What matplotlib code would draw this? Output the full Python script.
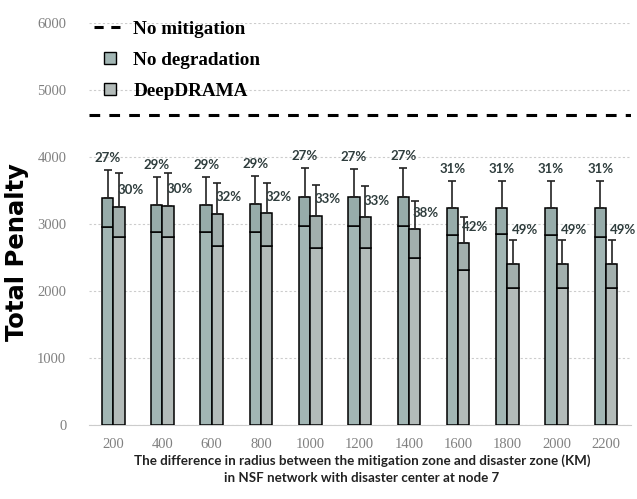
import numpy as np
import matplotlib
matplotlib.use('Agg')
import matplotlib.pyplot as plt
from matplotlib.lines import Line2D

# radius difference (KM)
radius = ['200', '400', '600', '800', '1000', '1200', '1400', '1600', '1800', '2000', '2200']

# No degradation: bar top, lower segment, whisker top
nd_top = [3390, 3285, 3285, 3300, 3400, 3400, 3400, 3240, 3240, 3240, 3240]
nd_low = [2955, 2880, 2880, 2880, 2970, 2970, 2970, 2830, 2850, 2830, 2800]
nd_err = [3805, 3700, 3700, 3720, 3840, 3820, 3840, 3640, 3640, 3640, 3640]
nd_pct = ['27%', '29%', '29%', '29%', '27%', '27%', '27%', '31%', '31%', '31%', '31%']

# DeepDRAMA
dd_top = [3255, 3270, 3150, 3160, 3120, 3100, 2920, 2710, 2400, 2400, 2400]
dd_low = [2805, 2800, 2680, 2680, 2650, 2650, 2500, 2310, 2050, 2050, 2050]
dd_err = [3760, 3760, 3610, 3610, 3580, 3570, 3340, 3100, 2760, 2760, 2760]
dd_pct = ['30%', '30%', '32%', '32%', '33%', '33%', '38%', '42%', '49%', '49%', '49%']

no_mitigation = 4620

nd_color = '#a2b6b4'
dd_color = '#b3bbb9'
pct_color = '#2f3d3d'

fig = plt.figure(figsize=(6.37, 4.99), dpi=100)
ax = fig.add_axes([0.139, 0.148, 0.851, 0.806])

x = np.arange(len(radius))
w = 0.23
nd_top = np.array(nd_top); nd_low = np.array(nd_low); nd_err = np.array(nd_err)
dd_top = np.array(dd_top); dd_low = np.array(dd_low); dd_err = np.array(dd_err)

# stacked bars: lower part + upper box
ax.bar(x - w / 2, nd_low, w, color=nd_color, edgecolor='black', linewidth=1.1, zorder=3)
ax.bar(x - w / 2, nd_top - nd_low, w, bottom=nd_low, color='#97acaa', edgecolor='black', linewidth=1.1, zorder=3)
ax.bar(x + w / 2, dd_low, w, color=dd_color, edgecolor='black', linewidth=1.1, zorder=3)
ax.bar(x + w / 2, dd_top - dd_low, w, bottom=dd_low, color='#a2afad', edgecolor='black', linewidth=1.1, zorder=3)

# whiskers
ax.errorbar(x - w / 2, nd_top, yerr=[np.zeros_like(nd_top), nd_err - nd_top], fmt='none',
            ecolor='#222222', elinewidth=1.2, capsize=3, capthick=1.2, zorder=4)
ax.errorbar(x + w / 2, dd_top, yerr=[np.zeros_like(dd_top), dd_err - dd_top], fmt='none',
            ecolor='#222222', elinewidth=1.2, capsize=3, capthick=1.2, zorder=4)

# no mitigation line
ax.axhline(no_mitigation, color='black', linestyle=(0, (3.5, 3)), linewidth=2.2, zorder=2)

# percent labels
for i in range(len(radius)):
    ax.text(x[i] - w / 2, nd_err[i] + 90, nd_pct[i], ha='center', va='bottom',
            fontsize=9.5, fontweight='bold', family='Lato', color=pct_color, zorder=5)
    ypos = max(dd_top[i] + 250, nd_top[i] - 330)
    ax.text(x[i] + w / 2 - 0.03, ypos, dd_pct[i], ha='left', va='center',
            fontsize=9.5, fontweight='bold', family='Lato', color=pct_color, zorder=5)

ax.set_xlim(-0.5, 10.5)
ax.set_ylim(0, 6000)
ax.set_yticks(np.arange(0, 6001, 1000))
ax.set_xticks(x)
ax.set_xticklabels(radius)
ax.tick_params(axis='both', length=0, labelsize=10.5, labelcolor='#808080')
for lab in ax.get_xticklabels() + ax.get_yticklabels():
    lab.set_family('Liberation Serif')
ax.tick_params(axis='x', pad=9)
ax.tick_params(axis='y', pad=16)
ax.yaxis.grid(True, color='#cccccc', linestyle=(0, (2, 2)), linewidth=0.8, zorder=0)
for s in ['top', 'right', 'left']:
    ax.spines[s].set_visible(False)
ax.spines['bottom'].set_color('#cccccc')

ax.set_ylabel('Total Penalty', fontsize=17.5, fontweight='bold', family='DejaVu Sans')
ax.yaxis.set_label_coords(-0.11, 0.43)

fig.text(0.568, 0.076, 'The difference in radius between the mitigation zone and disaster zone (KM)',
         ha='center', va='center', fontsize=9.6, fontweight='bold', family='Lato', color='#222222')
fig.text(0.568, 0.042, 'in NSF network with disaster center at node 7',
         ha='center', va='center', fontsize=9.6, fontweight='bold', family='Lato', color='#222222')

handles = [Line2D([0], [0], color='black', linestyle=(0, (3, 2.5)), linewidth=2.2),
           Line2D([0], [0], linestyle='none', marker='s', markersize=8,
                  markerfacecolor=nd_color, markeredgecolor='black'),
           Line2D([0], [0], linestyle='none', marker='s', markersize=8,
                  markerfacecolor=dd_color, markeredgecolor='black')]
leg = ax.legend(handles, ['No mitigation', 'No degradation', 'DeepDRAMA'], loc='upper left',
                bbox_to_anchor=(-0.022, 1.05), frameon=False, handlelength=1.7, handletextpad=0.35,
                numpoints=1, labelspacing=0.72,
                prop={'family': 'Liberation Serif', 'weight': 'bold', 'size': 13.8})

fig.savefig('out.png', dpi=100, facecolor='white')
